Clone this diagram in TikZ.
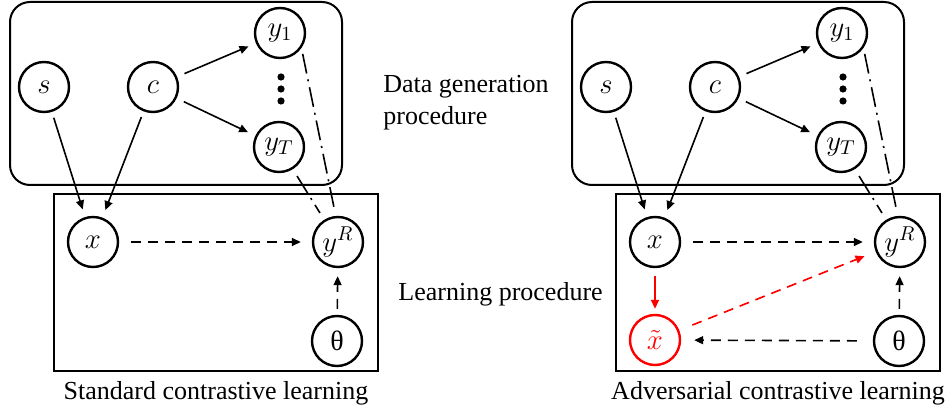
\documentclass[tikz,border=0pt]{standalone}
\usepackage{fontspec}
\setmainfont{Liberation Serif}
\usetikzlibrary{arrows.meta}

\begin{document}
\begin{tikzpicture}[x=0.5pt, y=-0.5pt, font=\fontsize{13}{16}\selectfont,
  var/.style = {shape=circle, draw, line width=1.2pt, minimum size=25pt,
    inner sep=0pt, font=\fontsize{14}{17}\selectfont},
  box/.style = {draw, line width=1pt},
  arr/.style = {-{Triangle[length=4.5pt,width=4pt]}, line width=0.8pt,
    shorten <=3pt, shorten >=4pt},
  dasharr/.style = {arr, dash pattern=on 5pt off 3.5pt},
  dashdot/.style = {line width=0.8pt, dash pattern=on 10pt off 3pt on 1pt off 3pt}]
  \useasboundingbox (0,0) rectangle (948,406);
  \foreach \p/\dx/\kind in {a/0/Standard, b/562/Adversarial} {
    \draw[box, rounded corners=10pt] (10+\dx,2) rectangle (342+\dx,185);
    \draw[box] (54+\dx,194) rectangle (378+\dx,371);
    \node[var] (s\p) at (44+\dx,87) {$s$};
    \node[var] (c\p) at (153+\dx,87) {$c$};
    \node[var] (y1\p) at (280+\dx,33) {$y_1$};
    \node[var] (yT\p) at (279+\dx,147) {$y_T$};
    \foreach \yy in {77,89,101}
      \fill (281+\dx,\yy) circle (1.8pt);
    \node[var] (x\p) at (93+\dx,242) {$x$};
    \node[var] (yR\p) at (338+\dx,242) {$y^R$};
    \node[var] (th\p) at (337+\dx,341) {θ};
    \node[anchor=base, inner sep=0pt] (cap\p) at (216+\dx,400) {\kind\ contrastive learning};
    \draw[arr] (s\p) -- (x\p);
    \draw[arr] (c\p) -- (x\p);
    \draw[arr, shorten <=4pt] (c\p) -- (y1\p);
    \draw[arr, shorten <=4pt] (c\p) -- (yT\p);
    \draw[dasharr, shorten <=6pt, shorten >=5.5pt] (x\p) -- (yR\p);
    \draw[dasharr] (th\p) -- (yR\p);
    \draw[dashdot, shorten <=3pt, shorten >=2.5pt] (y1\p.-35) -- (yR\p.95);
    \draw[dashdot, shorten <=4pt, shorten >=4pt] (yT\p) -- (yR\p);
  }
  % middle labels
  \node[anchor=west, align=left, inner sep=0pt] (gen) at (383,103) {Data generation\\procedure};
  \node[anchor=base west, inner sep=0pt] (learn) at (398,300) {Learning procedure};
  % adversarial part
  \node[var, draw=red, text=red] (xtb) at (655,340) {$\tilde{x}$};
  \draw[arr, red, shorten <=4pt, shorten >=2.5pt] (xb) -- (xtb);
  \draw[dasharr, red, shorten <=7pt, shorten >=6pt] (xtb) -- (yRb);
  \draw[dasharr, shorten <=8pt, shorten >=6.5pt] (thb) -- (xtb);
\end{tikzpicture}
\end{document}
